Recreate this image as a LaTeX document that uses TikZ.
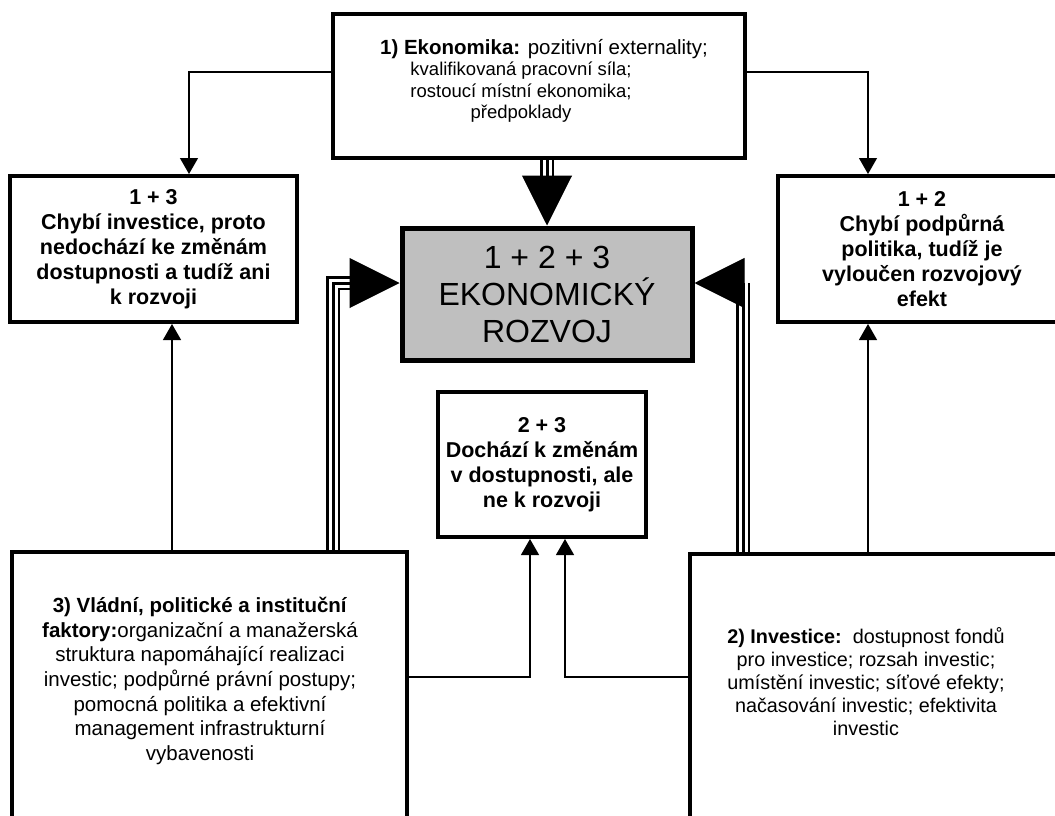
\documentclass[tikz,border=0pt]{standalone}
\usepackage{fontspec}
\setmainfont{Liberation Sans}
\usetikzlibrary{arrows.meta}

\begin{document}
\begin{tikzpicture}[x=1pt, y=-1pt,
        box/.style={draw, line width=4pt, fill=white, align=center, inner sep=0pt},
        txt/.style={font=\fontsize{18.5pt}{21.5pt}\selectfont, align=center},
        btxt/.style={font=\bfseries\fontsize{21.5pt}{25pt}\selectfont},
        link/.style={line width=1.2pt, -{Triangle[length=16pt,width=18pt]}},
        triple/.style={line width=3pt, preaction={draw, line width=14pt}, preaction={draw, white, line width=9pt}},
        bigtip/.style={line width=1pt, -{Triangle[length=50pt,width=50pt]}}]
        \clip (0,0) rectangle (1055,816);
        \fill[white] (0,0) rectangle (1055,816);

        \node[box, minimum width=412pt, minimum height=144pt] (econ) at (539,86) {};
        \node[txt] (econtxt) at (521,81)
            {\hspace*{46pt}{\fontsize{20.5pt}{21.5pt}\selectfont\textbf{1) Ekonomika:} pozitivní externality;}\\kvalifikovaná pracovní síla;\\rostoucí místní ekonomika;\\předpoklady};
        \node[box, btxt, minimum width=287pt, minimum height=146pt] (gap13) at (153.5,249)
            {1 + 3\\Chybí investice, proto\\nedochází ke změnám\\dostupnosti a tudíž ani\\k rozvoji};
        \node[box, btxt, minimum width=288pt, minimum height=146pt] (gap12) at (922,249)
            {1 + 2\\Chybí podpůrná\\politika, tudíž je\\vyloučen rozvojový\\efekt};
        \node[box, line width=5pt, fill=gray!50, font=\fontsize{32pt}{37pt}\selectfont,
            minimum width=290pt, minimum height=132pt] (goal) at (547,294)
            {1 + 2 + 3\\EKONOMICKÝ\\ROZVOJ};
        \node[box, btxt, minimum width=208pt, minimum height=145pt] (gap23) at (542,464.5)
            {2 + 3\\Dochází k změnám\\v dostupnosti, ale\\ne k rozvoji};
        \node[box, minimum width=395pt, minimum height=320pt, anchor=north west] (fact3) at (10,550) {};
        \node[box, minimum width=420pt, minimum height=320pt, anchor=north west] (fact2) at (688,552) {};
        \node[txt, font=\fontsize{20.5pt}{24.7pt}\selectfont] (fact3txt) at (200,681)
            {\textbf{3) Vládní, politické a instituční}\\\textbf{faktory:}organizační a manažerská\\struktura napomáhající realizaci\\investic; podpůrné právní postupy;\\pomocná politika a efektivní\\management infrastrukturní\\vybavenosti};
        \node[txt, font=\fontsize{19.8pt}{23pt}\selectfont] (fact2txt) at (866,682)
            {\textbf{2) Investice:}\ \ dostupnost fondů\\pro investice; rozsah investic;\\umístění investic; síťové efekty;\\načasování investic; efektivita\\investic};

        \coordinate (k13) at (189,72);
        \coordinate (k12) at (868,72);
        \coordinate (v13) at (172,0);
        \coordinate (v12) at (868,0);
        \coordinate (v3) at (530,677);
        \coordinate (v2) at (565,677);
        \coordinate (b1) at (547,178);
        \coordinate (t3) at (333,283);
        \coordinate (b3) at (352,283);
        \coordinate (t2) at (743,283);

        \draw[link] (econ.west |- k13) -| (gap13.north -| k13);
        \draw[link] (econ.east |- k12) -| (gap12.north -| k12);
        \draw[link] (fact3.north -| v13) -- (gap13.south -| v13);
        \draw[link] (fact2.north -| v12) -- (gap12.south -| v12);
        \draw[link] (fact3.east |- v3) -| (gap23.south -| v3);
        \draw[link] (fact2.west |- v2) -| (gap23.south -| v2);

        \draw[triple] (goal.north |- econ.south) -- (b1);
        \draw[bigtip] (b1) -- (goal.north);
        \draw[triple] (fact3.north -| t3) |- (b3);
        \draw[bigtip] (b3) -- (goal.west |- t3);
        \draw[triple] (fact2.north -| t2) -- (t2);
        \draw[bigtip] (t2) -- (goal.east |- t2);
    \end{tikzpicture}
\end{document}
